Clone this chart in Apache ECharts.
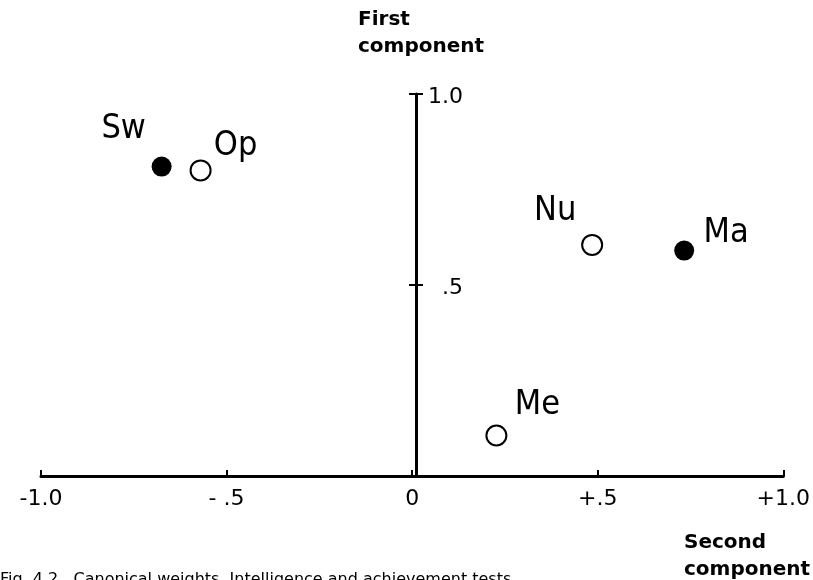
<!DOCTYPE html>
<html>
<head>
<meta charset="utf-8">
<script src="https://cdn.jsdelivr.net/npm/echarts@6/dist/echarts.min.js"></script>
<style>
  html, body { margin: 0; background: #fff; }
  #chart { width: 813px; height: 580px; }
</style>
</head>
<body>
<div id="chart"></div>
<script>
// canonical weights
const tests = ['Sw', 'Op', 'Nu', 'Ma', 'Me'];
const secondComponent = [-0.675, -0.57, 0.485, 0.733, 0.227];
const firstComponent = [0.81, 0.80, 0.605, 0.59, 0.106];
const isFilled = [true, false, false, true, false];

const xTicks = [-1, -0.5, 0, 0.5, 1];
const xTickLabels = ['-1.0', '- .5', '0', '+.5', '+1.0'];
const yTicks = [0, 0.5, 1];
const yTickLabels = ['', '.5', '1.0'];

// where each test name sits relative to its marker
const labelOffset = {
  Sw: [-38, -37],
  Op: [35, -24],
  Nu: [-37, -34],
  Ma: [42, -17],
  Me: [41, -30]
};

const font = 'DejaVu Sans';
const ink = '#000';

// plot area; the vertical axis gets its own thin grid starting at x = 0
const plot = { left: 41, right: 22, top: 94, bottom: 104 };
const zeroX = plot.left + (813 - plot.left - plot.right) / 2;

function tickText(values, labels) {
  return function (v) {
    const i = values.findIndex(t => Math.abs(t - v) < 1e-9);
    return i < 0 ? '' : labels[i];
  };
}

const points = tests.map((name, i) => ({
  name: name,
  value: [secondComponent[i], firstComponent[i]],
  itemStyle: isFilled[i]
    ? { color: ink, borderWidth: 0, opacity: 1 }
    : { color: '#fff', borderColor: ink, borderWidth: 2, opacity: 1 },
  label: { offset: labelOffset[name] }
}));

const yBase = { type: 'value', min: 0, max: 1, interval: 0.5, splitLine: { show: false } };

const option = {
  animation: false,
  backgroundColor: '#fff',
  grid: [
    { left: plot.left, right: plot.right, top: plot.top, bottom: plot.bottom },
    { left: zeroX, width: 60, top: plot.top, bottom: plot.bottom }
  ],
  xAxis: [
    {
      type: 'value',
      gridIndex: 0,
      min: -1,
      max: 1,
      interval: 0.5,
      axisLine: { show: true, onZero: false, lineStyle: { color: ink, width: 3 } },
      axisTick: { show: true, inside: true, length: 6, lineStyle: { color: ink, width: 2 } },
      axisLabel: {
        margin: 12,
        color: ink,
        fontFamily: font,
        fontSize: 22,
        formatter: tickText(xTicks, xTickLabels)
      },
      splitLine: { show: false }
    },
    { type: 'value', gridIndex: 1, min: 0, max: 1, show: false }
  ],
  yAxis: [
    Object.assign({}, yBase, { gridIndex: 0, show: false }),
    Object.assign({}, yBase, {
      gridIndex: 1,
      position: 'left',
      axisLine: { show: true, onZero: false, lineStyle: { color: ink, width: 3 } },
      axisTick: { show: true, length: 7, lineStyle: { color: ink, width: 2 } },
      axisLabel: {
        inside: true,
        align: 'right',
        verticalAlign: 'top',
        lineHeight: 6, // nudges the labels a few px below their ticks
        margin: 47,
        color: ink,
        fontFamily: font,
        fontSize: 22,
        formatter: tickText(yTicks, yTickLabels)
      }
    }),
    // same axis again, only to let the ticks cross to the right side
    Object.assign({}, yBase, {
      gridIndex: 1,
      position: 'left',
      axisLine: { show: false, onZero: false },
      axisTick: { show: true, inside: true, length: 7, lineStyle: { color: ink, width: 2 } },
      axisLabel: { show: false }
    })
  ],
  series: [
    {
      type: 'scatter',
      xAxisIndex: 0,
      yAxisIndex: 0,
      symbol: 'circle',
      symbolSize: 20,
      data: points,
      label: {
        show: true,
        position: 'inside',
        formatter: '{b}',
        color: ink,
        fontFamily: 'DejaVu Sans Condensed',
        fontSize: 34,
        align: 'center',
        verticalAlign: 'middle'
      },
      emphasis: { disabled: true }
    }
  ],
  graphic: [
    {
      type: 'text',
      left: 358,
      top: 6,
      style: { text: 'First\ncomponent', fill: ink, fontFamily: font, fontWeight: 'bold', fontSize: 20, lineHeight: 27 }
    },
    {
      type: 'text',
      left: 684,
      top: 529,
      style: { text: 'Second\ncomponent', fill: ink, fontFamily: font, fontWeight: 'bold', fontSize: 20, lineHeight: 27 }
    },
    {
      type: 'text',
      left: 0,
      top: 572,
      style: {
        text: 'Fig. 4.2   Canonical weights. Intelligence and achievement tests.',
        fill: ink,
        fontFamily: font,
        fontSize: 16
      }
    }
  ]
};

const chart = echarts.init(document.getElementById('chart'), null, { renderer: 'canvas' });
chart.setOption(option);
</script>
</body>
</html>
